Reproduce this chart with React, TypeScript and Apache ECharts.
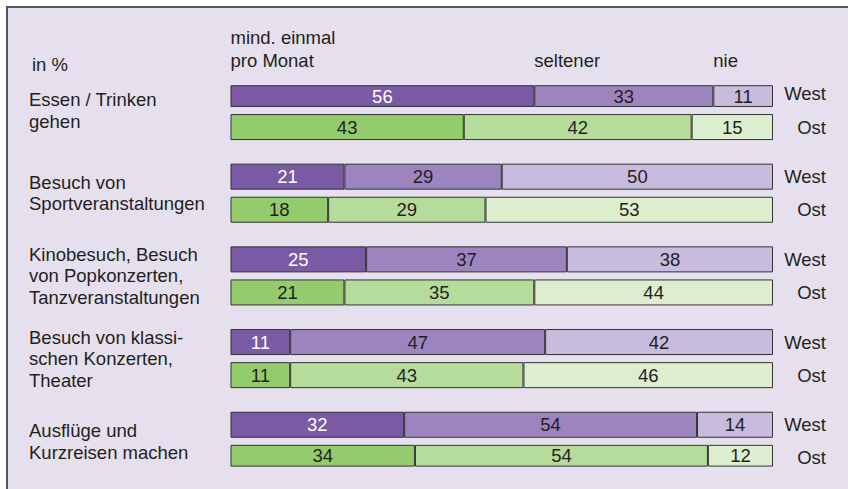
import React, { useEffect, useRef } from "react";
import * as echarts from "echarts";

// ---- data ----
const activities: string[] = [
  "Essen / Trinken\ngehen",
  "Besuch von\nSportveranstaltungen",
  "Kinobesuch, Besuch\nvon Popkonzerten,\nTanzveranstaltungen",
  "Besuch von klassi-\nschen Konzerten,\nTheater",
  "Ausflüge und\nKurzreisen machen",
];
const regions: string[] = ["West", "Ost"];
const levels: string[] = ["mind. einmal\npro Monat", "seltener", "nie"];

const westMonthly: number[] = [56, 21, 25, 11, 32];
const westRarely: number[] = [33, 29, 37, 47, 54];
const westNever: number[] = [11, 50, 38, 42, 14];

const ostMonthly: number[] = [43, 18, 21, 11, 34];
const ostRarely: number[] = [42, 29, 35, 43, 54];
const ostNever: number[] = [15, 53, 44, 46, 12];

const unitLabel = "in %";

// ---- styles ----
const FONT = '"Liberation Sans", Arial, Helvetica, sans-serif';
const FS = 18.5;
const TEXT = "#231f20";
const BG = "#e6e0ee";
const westColors = ["#7a59a5", "#9c85bf", "#c8bcde"];
const ostColors = ["#94cc6d", "#b6dc9c", "#ddeece"];
const labelColorsWest = ["#ffffff", TEXT, TEXT];
const labelColorsOst = [TEXT, TEXT, TEXT];

const SLOTS_PER_GROUP = 5;
const WEST_SLOT = 0;
const OST_SLOT = 2;
const NAME_SLOT = 1;

export default function App() {
  const ref = useRef<HTMLDivElement>(null);

  useEffect(() => {
    if (!ref.current) return;
    const chart = echarts.init(ref.current, undefined, { renderer: "svg" });

    const nGroups = activities.length;
    const nSlots = (nGroups - 1) * SLOTS_PER_GROUP + OST_SLOT + 1;
    const slotIds = Array.from({ length: nSlots }, (_, i) => String(i));

    const west = [westMonthly, westRarely, westNever];
    const ost = [ostMonthly, ostRarely, ostNever];

    const series = levels.map((lvl, k) => ({
      type: "bar" as const,
      name: lvl,
      stack: "total",
      barWidth: 26,
      itemStyle: { borderColor: "#333333", borderWidth: 1 },
      label: {
        show: true,
        position: "inside" as const,
        fontSize: FS,
        fontFamily: FONT,
      },
      data: slotIds.map((_, i) => {
        const g = Math.floor(i / SLOTS_PER_GROUP);
        const r = i % SLOTS_PER_GROUP;
        if (r === WEST_SLOT) {
          return {
            value: west[k][g],
            itemStyle: { color: westColors[k] },
            label: { color: labelColorsWest[k] },
          };
        }
        if (r === OST_SLOT) {
          return {
            value: ost[k][g],
            itemStyle: { color: ostColors[k] },
            label: { color: labelColorsOst[k] },
          };
        }
        return "-";
      }),
    }));

    const option: any = {
      animation: false,
      backgroundColor: "#ffffff",
      grid: { left: 230.5, right: 75, top: 85.7, bottom: 22.9, containLabel: false },
      xAxis: { type: "value", min: 0, max: 100, show: false },
      yAxis: [
        {
          type: "category",
          inverse: true,
          data: slotIds,
          axisLine: { show: false },
          axisTick: { show: false },
          splitLine: { show: false },
          axisLabel: {
            interval: 0,
            align: "left",
            margin: 201.5,
            fontSize: FS,
            lineHeight: 21.5,
            fontFamily: FONT,
            color: TEXT,
            formatter: (_v: string, idx: number) =>
              idx % SLOTS_PER_GROUP === NAME_SLOT
                ? activities[Math.floor(idx / SLOTS_PER_GROUP)]
                : "",
          },
        },
        {
          type: "category",
          inverse: true,
          position: "right",
          data: slotIds,
          axisLine: { show: false },
          axisTick: { show: false },
          splitLine: { show: false },
          axisLabel: {
            interval: 0,
            align: "right",
            margin: 53,
            fontSize: FS,
            fontFamily: FONT,
            color: TEXT,
            formatter: (_v: string, idx: number) => {
              const r = idx % SLOTS_PER_GROUP;
              if (r === WEST_SLOT) return regions[0];
              if (r === OST_SLOT) return regions[1];
              return "";
            },
          },
        },
      ],
      series,
    };

    chart.setOption(option);

    // header labels placed at the West segment starts of the first group
    const cum = [0, westMonthly[0], westMonthly[0] + westRarely[0]];
    const headerTexts = levels.map((lvl, k) => {
      const x = chart.convertToPixel({ xAxisIndex: 0 }, cum[k]) as number;
      return {
        type: "text",
        z: 10,
        style: {
          text: lvl,
          x: x,
          y: k === 0 ? 26 : 49,
          fontSize: FS,
          lineHeight: 23,
          fontFamily: FONT,
          fill: TEXT,
          verticalAlign: "top",
          align: "left",
        },
      };
    });

    chart.setOption({
      graphic: [
        {
          type: "rect",
          z: -10,
          silent: true,
          shape: { x: 7, y: 7, width: 900, height: 600 },
          style: { fill: BG, stroke: "#555555", lineWidth: 2 },
        },
        {
          type: "text",
          z: 10,
          style: {
            text: unitLabel,
            x: 32,
            y: 64.5,
            fontSize: FS,
            fontFamily: FONT,
            fill: TEXT,
            verticalAlign: "middle",
            align: "left",
          },
        },
        ...headerTexts,
      ],
    });

    return () => chart.dispose();
  }, []);

  return (
    <div
      ref={ref}
      style={{ position: "fixed", left: 0, top: 0, width: 848, height: 489 }}
    />
  );
}
